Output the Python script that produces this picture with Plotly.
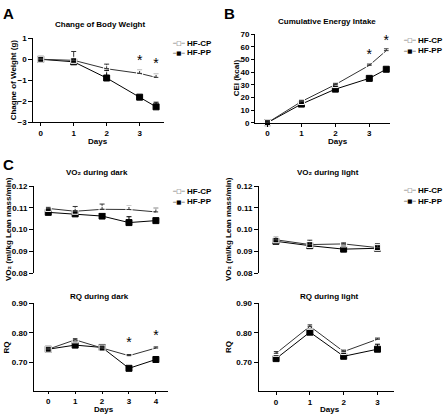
import plotly.graph_objects as go

W, H = 444, 419
FONT = "Liberation Sans, Arial, sans-serif"

# ---------------- data ----------------
series_names = ["HF-CP", "HF-PP"]

bw_days = [0, 1, 2, 3, 3.5]
bw_cp = [0, -0.05, -0.45, -0.67, -0.86]
bw_cp_err = [0.05, 0.42, 0.22, 0.15, 0.15]
bw_pp = [0, -0.12, -0.89, -1.80, -2.26]
bw_pp_err = [0.05, 0.05, 0.35, 0.06, 0.22]
bw_star_x = [3, 3.5]
bw_star_y = [-0.12, -0.25]

cei_days = [0, 1, 2, 3, 3.5]
cei_cp = [0, 16.7, 30.1, 45.3, 56.9]
cei_cp_err = [0.5, 1.0, 1.0, 1.0, 1.5]
cei_pp = [0, 14.7, 26.5, 35.0, 42.2]
cei_pp_err = [0.5, 0.8, 0.8, 0.8, 1.0]
cei_star_x = [3, 3.5]
cei_star_y = [53.3, 64.1]

vo2d_days = [0, 1, 2, 3, 4]
vo2d_cp = [0.1097, 0.1084, 0.1093, 0.1092, 0.1081]
vo2d_cp_err = [0.0005, 0.0022, 0.0024, 0.0015, 0.0017]
vo2d_pp = [0.1079, 0.1072, 0.1062, 0.1032, 0.1041]
vo2d_pp_err = [0.0004, 0.0006, 0.0006, 0.0027, 0.0006]

vo2l_days = [0, 1, 2, 3]
vo2l_cp = [0.0953, 0.0931, 0.0934, 0.0917]
vo2l_cp_err = [0.0015, 0.0020, 0.0005, 0.0015]
vo2l_pp = [0.0946, 0.0926, 0.0910, 0.0914]
vo2l_pp_err = [0.0008, 0.0008, 0.0006, 0.0020]

rqd_days = [0, 1, 2, 3, 4]
rqd_cp = [0.744, 0.776, 0.748, 0.722, 0.748]
rqd_cp_err = [0.004, 0.004, 0.004, 0.004, 0.004]
rqd_pp = [0.744, 0.758, 0.750, 0.679, 0.709]
rqd_pp_err = [0.004, 0.004, 0.004, 0.004, 0.004]
rqd_star_x = [3, 4]
rqd_star_y = [0.764, 0.789]

rql_days = [0, 1, 2, 3]
rql_cp = [0.730, 0.822, 0.736, 0.778]
rql_cp_err = [0.006, 0.005, 0.005, 0.004]
rql_pp = [0.712, 0.802, 0.720, 0.744]
rql_pp_err = [0.005, 0.008, 0.005, 0.017]

# ---------------- helpers ----------------
def fx(px):
    return px / W

def fy(py):
    return 1 - py / H

CP_COL = "#333333"
PP_COL = "#000000"

fig = go.Figure()

def axname(ax):
    return ("x" + ("" if ax == 1 else str(ax)), "y" + ("" if ax == 1 else str(ax)))

def add_series(ax, x, cp, cp_err, pp, pp_err):
    xa, ya = axname(ax)
    for name, y, err, col, sym in [
        (series_names[1], pp, pp_err, PP_COL, "square"),
        (series_names[0], cp, cp_err, CP_COL, "square-open"),
    ]:
        fig.add_trace(go.Scatter(
            x=x, y=y, mode="lines+markers", name=name, showlegend=False,
            xaxis=xa, yaxis=ya, cliponaxis=False,
            line=dict(color=col, width=1),
            marker=dict(symbol=sym, size=6, color=col if sym == "square" else "white",
                        line=dict(color=col, width=1)),
            error_y=dict(type="data", array=err, arrayminus=[0] * len(err),
                         symmetric=False, color=col, thickness=1, width=2.5),
        ))

def add_stars(ax, sx, sy):
    xa, ya = axname(ax)
    fig.add_trace(go.Scatter(
        x=sx, y=sy, mode="text", text=["*"] * len(sx), showlegend=False,
        xaxis=xa, yaxis=ya, cliponaxis=False, textposition="middle center",
        textfont=dict(family=FONT, size=14, color="black"),
    ))

add_series(1, bw_days, bw_cp, bw_cp_err, bw_pp, bw_pp_err)
add_stars(1, bw_star_x, bw_star_y)
add_series(2, cei_days, cei_cp, cei_cp_err, cei_pp, cei_pp_err)
add_stars(2, cei_star_x, cei_star_y)
add_series(3, vo2d_days, vo2d_cp, vo2d_cp_err, vo2d_pp, vo2d_pp_err)
add_series(4, vo2l_days, vo2l_cp, vo2l_cp_err, vo2l_pp, vo2l_pp_err)
add_series(5, rqd_days, rqd_cp, rqd_cp_err, rqd_pp, rqd_pp_err)
add_stars(5, rqd_star_x, rqd_star_y)
add_series(6, rql_days, rql_cp, rql_cp_err, rql_pp, rql_pp_err)

tickfont = dict(family=FONT, size=8, color="black", weight="bold")

def xaxis(dom, rng, tickvals, visible=True, ticklen=3):
    return dict(domain=[fx(dom[0]), fx(dom[1])], range=rng, visible=visible,
                showline=visible, linecolor="black", linewidth=1,
                ticks="outside" if visible else "", ticklen=ticklen, tickwidth=1, tickcolor="black",
                tickvals=tickvals, tickfont=tickfont, showgrid=False, zeroline=False,
                fixedrange=True)

def yaxis(dom, rng, tickvals, fmt, anchor, ticklen=4):
    return dict(domain=[fy(dom[1]), fy(dom[0])], range=rng, anchor=anchor,
                showline=True, linecolor="black", linewidth=1,
                ticks="outside", ticklen=ticklen, tickwidth=1, tickcolor="black",
                tickvals=tickvals, tickformat=fmt, tickfont=tickfont,
                showgrid=False, zeroline=False, fixedrange=True)

layout = dict(
    width=W, height=H, margin=dict(l=0, r=0, t=0, b=0),
    paper_bgcolor="white", plot_bgcolor="white", showlegend=False,
    font=dict(family=FONT, color="black"),
    xaxis=xaxis((33.3, 164), [-0.225, 3.74], [0, 1, 2, 3]),
    yaxis=yaxis((35, 121), [-3, 1], [-3, -2, -1, 0, 1], "d", "x"),
    xaxis2=xaxis((255, 390), [-0.368, 3.61], [0, 1, 2, 3]),
    yaxis2=yaxis((30.7, 121.3), [0, 70], list(range(0, 71, 10)), "d", "x2", ticklen=3),
    xaxis3=xaxis((34, 168), [-0.53, 4.45], [0, 1, 2, 3, 4], visible=False),
    yaxis3=yaxis((186, 275), [0.08, 0.12], [0.08, 0.09, 0.10, 0.11, 0.12], ".2f", "x3"),
    xaxis4=xaxis((259, 393.7), [-0.5, 3.48], [0, 1, 2, 3], visible=False),
    yaxis4=yaxis((186, 275), [0.08, 0.12], [0.08, 0.09, 0.10, 0.11, 0.12], ".2f", "x4"),
    xaxis5=xaxis((34, 168), [-0.53, 4.45], [0, 1, 2, 3, 4], ticklen=2),
    yaxis5=yaxis((306, 396), [0.6, 0.9], [0.70, 0.80, 0.90], ".2f", "x5"),
    xaxis6=xaxis((258.5, 393.7), [-0.52, 3.48], [0, 1, 2, 3]),
    yaxis6=yaxis((306, 396), [0.6, 0.9], [0.70, 0.80, 0.90], ".2f", "x6"),
)
for i in range(1, 7):
    k = "xaxis" if i == 1 else f"xaxis{i}"
    layout[k]["anchor"] = "y" if i == 1 else f"y{i}"

fig.update_layout(**layout)

anns = []

def text(px, py, s, size=8, bold=True, angle=0, xanchor="center", family=FONT, color="black"):
    anns.append(dict(x=fx(px), y=fy(py), xref="paper", yref="paper", text=s,
                     showarrow=False, xanchor=xanchor, yanchor="middle", textangle=angle,
                     borderpad=0,
                     font=dict(family=family, size=size, color=color,
                               weight="bold" if bold else "normal")))

# panel letters
text(2, 10, "A", size=15, xanchor="left")
text(223, 10, "B", size=15, xanchor="left")
text(2, 164, "C", size=15, xanchor="left")

# titles
text(100, 20.5, "Change of Body Weight")
text(327, 17.5, "Cumulative Energy Intake")
text(97, 172, "VO₂ during dark")
text(328, 172, "VO₂ during light")
text(99, 299, "RQ during dark")
text(329, 299, "RQ during light")

# x titles
text(98, 141, "Days")
text(337.5, 140.5, "Days")
text(103.5, 414.5, "Days")
text(329.5, 414, "Days")

# y titles
text(13, 78, "Chagne of Weight (g)", angle=-90)
text(236, 76, "CEI (kcal)", angle=-90)
text(8, 230, "VO₂ (ml/kg Lean mass/min)", angle=-90)
text(228, 230, "VO₂ (ml/kg Lean mass/min)", angle=-90)
text(6, 351, "RQ", angle=-90)
text(228.5, 351, "RQ", angle=-90)

# legends (glyph + label)
GLYPH_FONT = "DejaVu Sans, sans-serif"
for (lx, ly1, ly2) in [(171, 40, 50), (402, 37, 48), (171, 191.5, 202), (402, 190.5, 201.5)]:
    text(lx, ly1, "─□─", size=5.5, bold=False, xanchor="left", family=GLYPH_FONT, color=CP_COL)
    text(lx, ly2, "─■─", size=5.5, bold=False, xanchor="left", family=GLYPH_FONT)
    text(lx + 14.5, ly1, series_names[0], size=8, xanchor="left")
    text(lx + 14.5, ly2, series_names[1], size=8, xanchor="left")

fig.update_layout(annotations=anns)
fig.write_html("out.html", config={"displayModeBar": False},
               post_script="document.body.style.margin='0';")
